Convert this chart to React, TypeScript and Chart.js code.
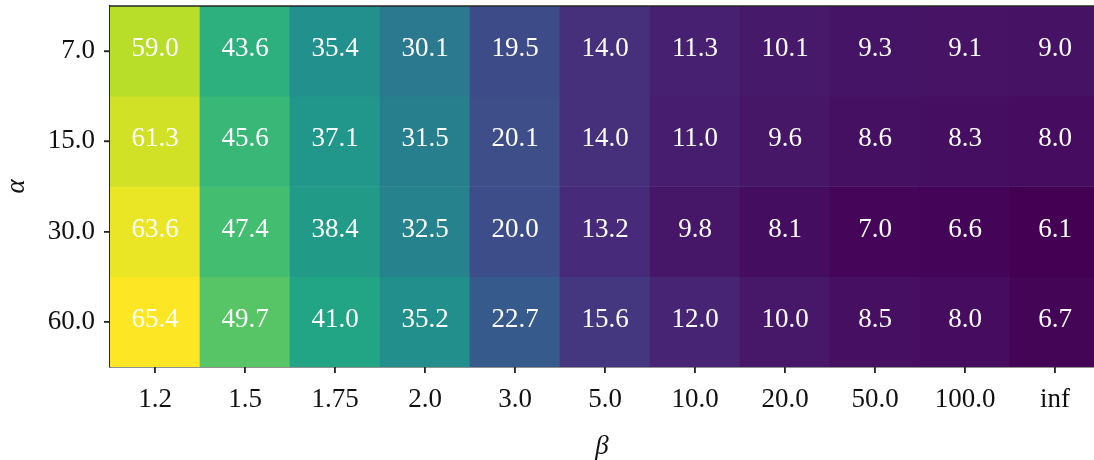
import React, { useEffect, useRef } from "react";
import { Chart, registerables } from "chart.js";

Chart.register(...registerables);

// Column parameter (beta) and row parameter (alpha) labels
const betaLabels = ["1.2", "1.5", "1.75", "2.0", "3.0", "5.0", "10.0", "20.0", "50.0", "100.0", "inf"];
const alphaLabels = ["7.0", "15.0", "30.0", "60.0"];

// One array of cell values per alpha row
const rowAlpha7 = [59.0, 43.6, 35.4, 30.1, 19.5, 14.0, 11.3, 10.1, 9.3, 9.1, 9.0];
const rowAlpha15 = [61.3, 45.6, 37.1, 31.5, 20.1, 14.0, 11.0, 9.6, 8.6, 8.3, 8.0];
const rowAlpha30 = [63.6, 47.4, 38.4, 32.5, 20.0, 13.2, 9.8, 8.1, 7.0, 6.6, 6.1];
const rowAlpha60 = [65.4, 49.7, 41.0, 35.2, 22.7, 15.6, 12.0, 10.0, 8.5, 8.0, 6.7];
const rows = [rowAlpha7, rowAlpha15, rowAlpha30, rowAlpha60];

// Viridis colormap sampled at 0, 0.1, ..., 1
const viridis = [
  [68, 1, 84], [72, 36, 117], [65, 68, 135], [53, 95, 141], [42, 120, 142],
  [33, 145, 140], [34, 168, 132], [68, 191, 112], [122, 209, 81], [189, 223, 38], [253, 231, 37],
];

function colorFor(v: number, vmin: number, vmax: number): string {
  const t = Math.min(1, Math.max(0, (v - vmin) / (vmax - vmin)));
  const p = t * (viridis.length - 1);
  const i = Math.min(viridis.length - 2, Math.floor(p));
  const f = p - i;
  const a = viridis[i];
  const b = viridis[i + 1];
  const c = a.map((x, k) => Math.round(x + (b[k] - x) * f));
  return `rgb(${c[0]},${c[1]},${c[2]})`;
}

const FONT = "'Liberation Serif', 'DejaVu Serif', serif";
const AXIS_COLOR = "#262626";

export default function App() {
  const canvasRef = useRef<HTMLCanvasElement | null>(null);

  useEffect(() => {
    const canvas = canvasRef.current;
    if (!canvas) return;
    const all = rows.flat();
    const vmin = Math.min(...all);
    const vmax = Math.max(...all);

    const datasets = rows.map((row, r) => ({
      label: alphaLabels[r],
      data: row.map((_, i) => ({ x: i, y: [r, r + 1] })),
      backgroundColor: row.map((v) => colorFor(v, vmin, vmax)),
      borderWidth: 0,
      grouped: false,
      barPercentage: 1,
      categoryPercentage: 1,
    }));

    const cellLabels = {
      id: "cellLabels",
      afterDatasetsDraw(chart: any) {
        const ctx = chart.ctx;
        ctx.save();
        ctx.fillStyle = "#ffffff";
        ctx.font = `27px ${FONT}`;
        ctx.textAlign = "center";
        ctx.textBaseline = "middle";
        rows.forEach((row, r) => {
          const meta = chart.getDatasetMeta(r);
          row.forEach((v, i) => {
            const el = meta.data[i];
            if (!el) return;
            const cy = (el.y + el.base) / 2;
            ctx.fillText(v.toFixed(1), el.x, cy - 2);
          });
        });
        ctx.restore();
      },
      afterDraw(chart: any) {
        const ctx = chart.ctx;
        const a = chart.chartArea;
        const xs = chart.scales.x;
        const ys = chart.scales.y;
        ctx.save();
        ctx.strokeStyle = AXIS_COLOR;
        // frame line along the top of the plot
        ctx.lineWidth = 1.5;
        ctx.beginPath();
        ctx.moveTo(a.left, a.top);
        ctx.lineTo(a.right, a.top);
        ctx.stroke();
        // outward tick marks at each cell centre
        ctx.lineWidth = 1.6;
        ctx.beginPath();
        xs.ticks.forEach((t: any) => {
          const px = Math.round(xs.getPixelForValue(t.value));
          ctx.moveTo(px, a.bottom);
          ctx.lineTo(px, a.bottom + 6);
        });
        ys.ticks.forEach((t: any) => {
          const py = Math.round(ys.getPixelForValue(t.value));
          ctx.moveTo(a.left, py);
          ctx.lineTo(a.left - 6, py);
        });
        ctx.stroke();
        ctx.restore();
      },
    };

    const chart = new Chart(canvas, {
      type: "bar",
      data: { datasets: datasets as any },
      plugins: [cellLabels],
      options: {
        animation: false,
        responsive: false,
        maintainAspectRatio: false,
        layout: { padding: { top: 6, left: 0, right: 0, bottom: 0 } },
        plugins: { legend: { display: false }, tooltip: { enabled: false } },
        scales: {
          x: {
            type: "linear",
            offset: false,
            min: -0.5,
            max: 10.5 - 6 / 90,
            afterFit: (scale: any) => {
              scale.height = 93;
              scale.paddingLeft = 0;
              scale.paddingRight = 0;
            },
            afterBuildTicks: (scale: any) => {
              scale.ticks = betaLabels.map((_, i) => ({ value: i }));
            },
            ticks: {
              autoSkip: false,
              maxRotation: 0,
              padding: 11,
              color: "#111",
              font: { family: FONT, size: 27 },
              callback: (_v: any, i: number) => betaLabels[i],
            },
            grid: { offset: false, drawOnChartArea: false, drawTicks: true, tickLength: 6, color: AXIS_COLOR, lineWidth: 1.2 },
            border: { display: true, color: AXIS_COLOR, width: 1.5 },
            title: {
              display: true,
              text: "β",
              color: "#111",
              font: { family: FONT, size: 27, style: "italic", lineHeight: 1 },
              padding: { top: 0, bottom: 0 },
            },
          },
          y: {
            type: "linear",
            offset: false,
            min: 0,
            max: 4,
            reverse: true,
            afterFit: (scale: any) => {
              scale.width = 110;
              scale.paddingTop = 0;
              scale.paddingBottom = 0;
            },
            afterBuildTicks: (scale: any) => {
              scale.ticks = alphaLabels.map((_, i) => ({ value: i + 0.5 }));
            },
            ticks: {
              autoSkip: false,
              padding: 9,
              color: "#111",
              font: { family: FONT, size: 27 },
              callback: (_v: any, i: number) => alphaLabels[i],
            },
            grid: { offset: false, drawOnChartArea: false, drawTicks: true, tickLength: 6, color: AXIS_COLOR, lineWidth: 1.2 },
            border: { display: true, color: AXIS_COLOR, width: 1.5 },
            title: {
              display: true,
              text: "α",
              color: "#111",
              font: { family: FONT, size: 27, style: "italic", lineHeight: 1 },
              padding: { top: 3, bottom: 0 },
            },
          },
        },
      } as any,
    });
    return () => chart.destroy();
  }, []);

  return (
    <div style={{ position: "fixed", left: 0, top: 0, width: 1094, height: 460, background: "#fff" }}>
      <canvas ref={canvasRef} width={1094} height={460} style={{ display: "block" }} />
    </div>
  );
}
